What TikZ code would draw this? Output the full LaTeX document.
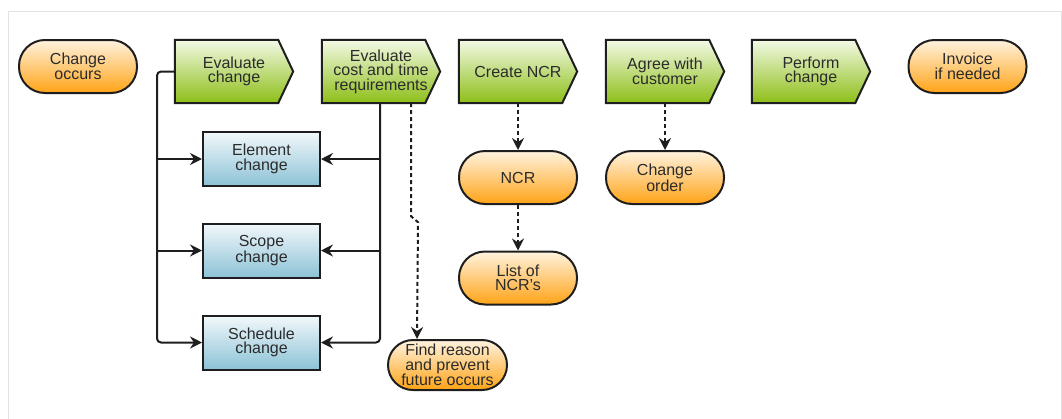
\documentclass[tikz,border=0pt]{standalone}
\usepackage{fontspec}
\setmainfont{Liberation Sans}
\usetikzlibrary{arrows.meta,calc,backgrounds}

\definecolor{edge}{HTML}{1E1E1E}
\definecolor{ink}{HTML}{2B2B2B}
\definecolor{greentop}{HTML}{F3FAE6}
\definecolor{greenbot}{HTML}{8DBE16}
\definecolor{orangetop}{HTML}{FFF3DF}
\definecolor{orangebot}{HTML}{FFA316}
\definecolor{bluetop}{HTML}{F2F8FB}
\definecolor{bluebot}{HTML}{8CC2D6}
\definecolor{frame}{HTML}{E2E2E2}

\tikzset{
  txt/.style={font=\fontsize{16}{14.5}\selectfont, text=ink, align=center, inner sep=0pt},
  stepnode/.style={txt, rectangle, minimum width=118pt, minimum height=63pt},
  stepfill/.style={draw=edge, line width=2pt, line join=miter, top color=greentop, bottom color=greenbot},
  pill/.style={txt, rectangle, draw=edge, line width=2pt, rounded corners=26pt,
    minimum width=118pt, minimum height=53pt, top color=orangetop, bottom color=orangebot},
  kind/.style={txt, rectangle, draw=edge, line width=2pt,
    minimum width=117pt, minimum height=54pt, top color=bluetop, bottom color=bluebot},
  conn/.style={draw=edge, line width=2pt, rounded corners=4pt,
    -{Stealth[length=12pt,width=12pt,inset=4pt]}},
  dotconn/.style={draw=edge, line width=2pt, dash pattern=on 4pt off 3pt,
    -{Stealth[length=12pt,width=12pt,inset=4pt]}},
}

\begin{document}
\begin{tikzpicture}[x=1pt,y=-1pt]
  \useasboundingbox (0,0) rectangle (1062,418);
  % outer frame
  \draw[frame, line width=1pt] (8.5,430) -- (8.5,11.5) -- (1061,11.5) -- (1061,430);

  % top row
  \node[pill]     (occ)   at (78,66.5)   {Change\\occurs};
  \node[stepnode] (evch)  at (234,71.5)  {Evaluate\\change};
  \node[stepnode] (evct)  at (381,71.5)  {Evaluate\\cost and time\\requirements};
  \node[stepnode] (mkncr) at (518,71.5)  {Create NCR};
  \node[stepnode] (agree) at (665,71.5)  {Agree with\\customer};
  \node[stepnode] (perf)  at (811,71.5)  {Perform\\change};
  \node[pill]     (inv)   at (967.5,66.5) {Invoice\\if needed};

  % kinds of change
  \node[kind] (elem)  at (261.5,159)   {Element\\change};
  \node[kind] (scope) at (261.5,250.5) {Scope\\change};
  \node[kind] (sched) at (261.5,342.5) {Schedule\\change};

  % outputs
  \node[pill] (ncr)    at (518,177.5) {NCR};
  \node[pill] (ncrs)   at (518,278)   {List of\\NCR's};
  \node[pill] (corder) at (665,177.5) {Change\\order};
  \node[pill, minimum width=119pt, minimum height=50pt, rounded corners=25pt]
    (reason) at (447.5,365) {Find reason\\and prevent\\future occurs};

  % arrow-shaped step outlines behind the step texts
  \begin{scope}[on background layer]
    \foreach \n in {evch,evct,mkncr,agree,perf}
      \path[stepfill] (\n.north west) -- ([xshift=-15pt]\n.north east) -- (\n.east)
        -- ([xshift=-15pt]\n.south east) -- (\n.south west) -- cycle;
  \end{scope}

  % left bus from "Evaluate change"
  \coordinate (lb) at (157,0);
  \draw[conn] (evch.west) -| (lb |- sched.west) -- (sched.west);
  \draw[conn] (lb |- elem.west) -- (elem.west);
  \draw[conn] (lb |- scope.west) -- (scope.west);

  % right bus from "Evaluate cost and time requirements"
  \coordinate (rb) at ([xshift=-1pt]evct.south);
  \draw[conn] (rb) |- (sched.east);
  \draw[conn] (rb |- elem.east) -- (elem.east);
  \draw[conn] (rb |- scope.east) -- (scope.east);

  % dotted flows
  \coordinate (dtop) at ([xshift=30pt]evct.south);
  \coordinate (dend) at ($(reason.north west)+(30,0)$);
  \draw[dotconn] (dtop) -- ($(dtop)+(0,113)$) -- ($(dtop)+(7,119)$) -- (dend);
  \draw[dotconn] (mkncr.south) -- (ncr.north);
  \draw[dotconn] (ncr.south) -- (ncrs.north);
  \draw[dotconn] (agree.south) -- (corder.north);
\end{tikzpicture}
\end{document}
